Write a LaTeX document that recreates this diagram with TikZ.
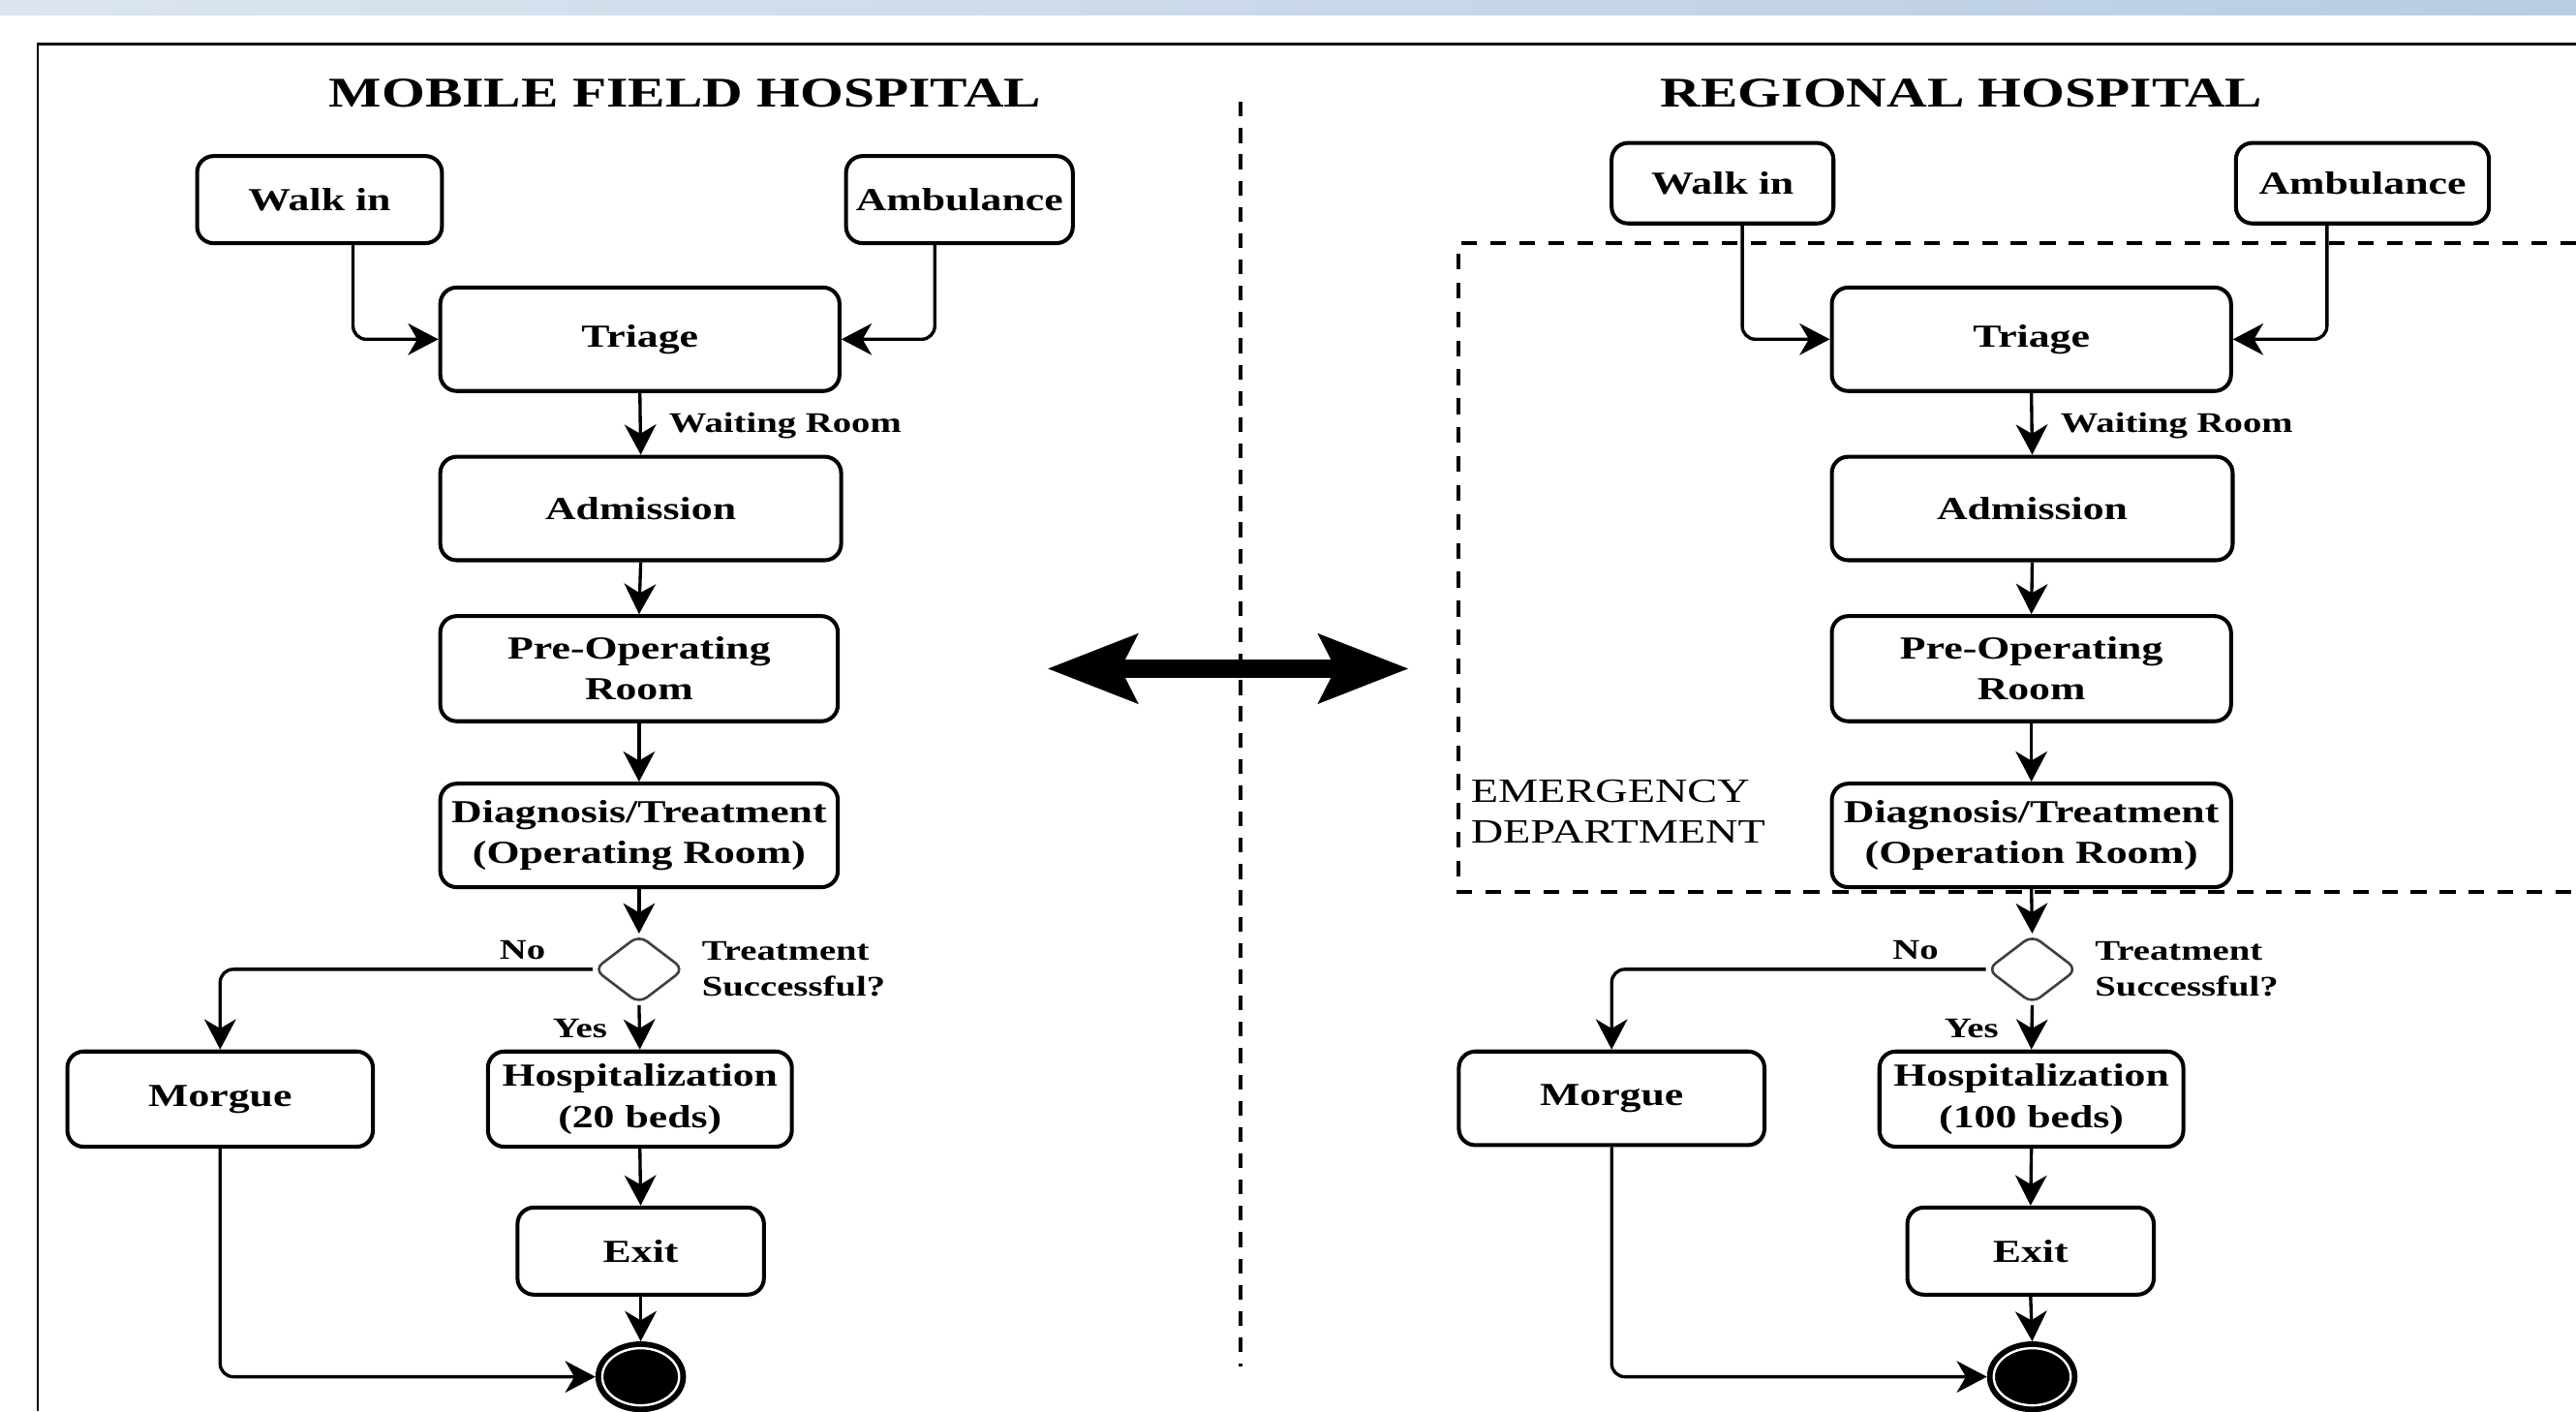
\documentclass[tikz,border=0pt]{standalone}
\usepackage{fontspec}
\setmainfont{Liberation Serif}[FakeStretch=1.32]
\usetikzlibrary{arrows.meta,shapes.geometric}
\definecolor{bandL}{RGB}{220,229,239}
\definecolor{bandR}{RGB}{184,204,228}
\newcommand\nfnt{\fontsize{13.9}{17.7}\selectfont\bfseries}
\newcommand\lfnt{\fontsize{12.3}{15.6}\selectfont\bfseries}
\newcommand\tfnt{\fontsize{18.3}{22}\selectfont\bfseries}
\newcommand\efnt{\fontsize{14.7}{17.7}\selectfont}
\tikzset{
  box/.style={draw=black, line width=1.7pt, rounded corners=2.5mm, inner sep=0pt, align=center, font=\nfnt},
  conn/.style={draw=black, line width=1.4pt, rounded corners=2mm, -{Stealth[length=4.6mm,width=4.8mm,inset=1.4mm]}},
  lbl/.style={font=\lfnt, inner sep=0pt},
  ttl/.style={font=\tfnt, inner sep=0pt},
  edlbl/.style={font=\efnt, inner sep=0pt, align=left},
  dec/.style={diamond, draw=black!75, line width=1.1pt, rounded corners=1.5mm, minimum width=13.75mm, minimum height=10.5mm, inner sep=0pt},
  fin/.style={ellipse, fill=black, draw=black, line width=0.8pt, minimum width=13.5mm, minimum height=10.5mm, inner sep=0pt},
  ring/.style={draw=white, line width=0.35mm},
  edash/.style={line width=0.6mm, dash pattern=on 2.4mm off 2mm},
  mdash/.style={line width=0.5mm, dash pattern=on 2.25mm off 1.75mm},
  bigarrow/.style={line width=2.7mm, {Stealth[length=13.75mm,width=10.75mm,inset=2.75mm,line width=0.1pt]}-{Stealth[length=13.75mm,width=10.75mm,inset=2.75mm,line width=0.1pt]}},
}
\begin{document}
\begin{tikzpicture}[x=0.25mm,y=-0.25mm]
\useasboundingbox (0,0) rectangle (1568,859);
\fill[white] (0,0) rectangle (1568,859);
\shade[left color=bandL,right color=bandR] (0,0) rectangle (1568,9);
\draw[line width=1.1pt] (1568,27) -- (23,27) -- (23,859);

% titles
\node[ttl] (t1) at (417,57) {MOBILE FIELD HOSPITAL};
\node[ttl] (t2) at (1194,57) {REGIONAL HOSPITAL};

% emergency department region
\draw[edash] (1568,148) -- (888,148) -- (888,543) -- (1568,543);
\node[edlbl, anchor=west] (ed) at (895,494) {EMERGENCY\\DEPARTMENT};

% middle separator and double arrow
\draw[mdash] (755,62) -- (755,832);
\coordinate (dl) at (638,407);
\coordinate (dr) at (857,407);
\draw[bigarrow] (dl) -- (dr);

% ---------------- left: mobile field hospital
\node[box, minimum width=37.25mm, minimum height=13.25mm] (walkL) at (194.5,121.5) {Walk in};
\node[box, minimum width=34.5mm, minimum height=13.25mm] (ambL) at (584,121.5) {Ambulance};
\node[box, minimum width=60.75mm, minimum height=15.75mm] (triL) at (389.5,206.5) {Triage};
\node[box, minimum width=61mm, minimum height=15.75mm] (admL) at (390,309.5) {Admission};
\node[box, minimum width=60.5mm, minimum height=16mm] (preL) at (389,407) {Pre-Operating\\Room};
\node[box, minimum width=60.5mm, minimum height=15.75mm] (diaL) at (389,508.5) {Diagnosis/Treatment\\(Operating Room)};
\node[dec] (decL) at (389,590) {};
\node[box, minimum width=46.5mm, minimum height=14.5mm] (morL) at (134,669) {Morgue};
\node[box, minimum width=46.25mm, minimum height=14.5mm] (hosL) at (389.5,669) {Hospitalization\\(20 beds)};
\node[box, minimum width=37.5mm, minimum height=13.25mm] (exitL) at (390,761.5) {Exit};
\node[fin] (endL) at (390,838) {};
\draw[ring] (endL.center) ellipse [x radius=5.85mm, y radius=4.35mm];

\draw[conn] ([xshift=5.1mm]walkL.south) |- (triL.west);
\draw[conn] ([xshift=-3.75mm]ambL.south) |- (triL.east);
\draw[conn] (triL.south) -- (admL.north);
\node[lbl, anchor=west] (wrL) at (407,259) {Waiting Room};
\draw[conn] (admL.south) -- (preL.north);
\draw[conn] (preL.south) -- (diaL.north);
\draw[conn] (diaL.south) -- (decL.north);
\draw[conn] (decL.west) -| (morL.north);
\draw[conn] (decL.south) -- (hosL.north);
\draw[conn] (hosL.south) -- (exitL.north);
\draw[conn] (exitL.south) -- (endL.north);
\draw[conn] (morL.south) |- (endL.west);
\node[lbl] (noL) at (318,578) {No};
\node[lbl] (yesL) at (353,626) {Yes};
\node[lbl, anchor=west, align=left] (tsL) at (427,590) {Treatment\\Successful?};

% ---------------- right: regional hospital
\node[box, minimum width=33.75mm, minimum height=12.25mm] (walkR) at (1048.5,111.5) {Walk in};
\node[box, minimum width=38.5mm, minimum height=12.25mm] (ambR) at (1438,111.5) {Ambulance};
\node[box, minimum width=60.75mm, minimum height=15.75mm] (triR) at (1236.5,206.5) {Triage};
\node[box, minimum width=61mm, minimum height=15.75mm] (admR) at (1237,309.5) {Admission};
\node[box, minimum width=60.75mm, minimum height=16mm] (preR) at (1236.5,407) {Pre-Operating\\Room};
\node[box, minimum width=60.75mm, minimum height=15.75mm] (diaR) at (1236.5,508.5) {Diagnosis/Treatment\\(Operation Room)};
\node[dec] (decR) at (1237,590) {};
\node[box, minimum width=46.5mm, minimum height=14.25mm] (morR) at (981,668.5) {Morgue};
\node[box, minimum width=46.25mm, minimum height=14.5mm] (hosR) at (1236.5,669) {Hospitalization\\(100 beds)};
\node[box, minimum width=37.5mm, minimum height=13.25mm] (exitR) at (1236,761.5) {Exit};
\node[fin] (endR) at (1237,838) {};
\draw[ring] (endR.center) ellipse [x radius=5.85mm, y radius=4.35mm];

\draw[conn] ([xshift=3mm]walkR.south) |- (triR.west);
\draw[conn] ([xshift=-5.4mm]ambR.south) |- (triR.east);
\draw[conn] (triR.south) -- (admR.north);
\node[lbl, anchor=west] (wrR) at (1254,259) {Waiting Room};
\draw[conn] (admR.south) -- (preR.north);
\draw[conn] (preR.south) -- (diaR.north);
\draw[conn] (diaR.south) -- (decR.north);
\draw[conn] (decR.west) -| (morR.north);
\draw[conn] (decR.south) -- (hosR.north);
\draw[conn] (hosR.south) -- (exitR.north);
\draw[conn] (exitR.south) -- (endR.north);
\draw[conn] (morR.south) |- (endR.west);
\node[lbl] (noR) at (1166,578) {No};
\node[lbl] (yesR) at (1200,626) {Yes};
\node[lbl, anchor=west, align=left] (tsR) at (1275,590) {Treatment\\Successful?};
\end{tikzpicture}
\end{document}
